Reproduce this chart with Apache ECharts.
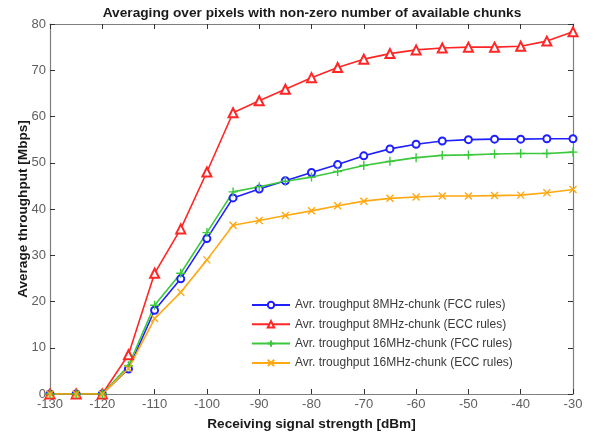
<!DOCTYPE html>
<html>
<head>
<meta charset="utf-8">
<script src="https://cdn.jsdelivr.net/npm/echarts@6/dist/echarts.min.js"></script>
<style>
  html, body { margin: 0; padding: 0; background: #fff; }
  #chart { width: 595px; height: 436px; }
</style>
</head>
<body>
<div id="chart"></div>
<script>
// Receiving signal strength [dBm]
const signalStrength = [-130, -125, -120, -115, -110, -105, -100, -95, -90, -85, -80,
                        -75, -70, -65, -60, -55, -50, -45, -40, -35, -30];

// Average throughput [Mbps] per chunk size / regulatory rules
const fcc8MHz  = [0, 0, 0, 5.4, 18.1, 24.9, 33.6, 42.4, 44.3, 46.1, 47.9,
                  49.6, 51.5, 53.0, 54.0, 54.7, 55.0, 55.1, 55.1, 55.2, 55.2];
const ecc8MHz  = [0, 0, 0, 8.5, 26.1, 35.7, 48.0, 60.8, 63.4, 65.9, 68.4,
                  70.6, 72.4, 73.6, 74.4, 74.8, 75.0, 75.0, 75.2, 76.3, 78.3];
const fcc16MHz = [0, 0, 0, 6.1, 19.2, 26.1, 34.9, 43.7, 44.8, 46.0, 46.9,
                  48.1, 49.4, 50.3, 51.1, 51.6, 51.7, 51.9, 52.0, 52.0, 52.3];
const ecc16MHz = [0, 0, 0, 5.5, 16.3, 22.0, 29.0, 36.5, 37.5, 38.6, 39.6,
                  40.7, 41.7, 42.3, 42.6, 42.8, 42.8, 42.9, 43.0, 43.5, 44.2];

const seriesNames = [
  'Avr. troughput 8MHz-chunk (FCC rules)',
  'Avr. troughput 8MHz-chunk (ECC rules)',
  'Avr. troughput 16MHz-chunk (FCC rules)',
  'Avr. troughput 16MHz-chunk (ECC rules)'
];

const pairs = vals => signalStrength.map((x, i) => [x, vals[i]]);

const PLUS = 'path://M0,5L10,5M5,0L5,10';
const CROSS = 'path://M0,0L10,10M0,10L10,0';

function lineSeries(name, vals, color, symbol, size, stroked) {
  return {
    name: name,
    type: 'line',
    data: pairs(vals),
    symbol: symbol,
    symbolSize: size,
    lineStyle: { color: color, width: 1.6 },
    itemStyle: stroked
      ? { color: color, borderColor: color, borderWidth: 1.4 }
      : { color: color, borderWidth: 1.4 },
    emphasis: { disabled: true },
    animation: false
  };
}

const axisGray = '#7f7f7f';
const labelGray = '#5e5e5e';

const chart = echarts.init(document.getElementById('chart'), null, { renderer: 'canvas' });
chart.setOption({
  backgroundColor: '#fff',
  title: {
    text: 'Averaging over pixels with non-zero number of available chunks',
    left: 307, textAlign: 'center', top: 1,
    textStyle: { fontFamily: 'Liberation Sans', fontSize: 13.7, fontWeight: 'bold', color: '#1a1a1a' }
  },
  legend: {
    orient: 'vertical',
    left: 246, top: 294,
    itemWidth: 38, itemHeight: 8, itemGap: 7.3,
    textStyle: { fontFamily: 'Liberation Sans', fontSize: 12, color: '#3a3a3a' },
    data: seriesNames
  },
  grid: { left: 50, right: 22, top: 24, bottom: 39 },
  xAxis: [{
    type: 'value', min: -130, max: -30, interval: 10,
    name: 'Receiving signal strength [dBm]', nameLocation: 'middle', nameGap: 23,
    nameMoveOverlap: false,
    nameTextStyle: { fontFamily: 'Liberation Sans', fontSize: 13.6, fontWeight: 'bold', color: '#1a1a1a' },
    axisLine: { onZero: false, lineStyle: { color: axisGray, width: 1.2 } },
    axisTick: { inside: true, length: 5, lineStyle: { color: '#333' } },
    axisLabel: { margin: 4, fontFamily: 'Liberation Sans', fontSize: 13, color: labelGray },
    splitLine: { show: false }
  }, {
    type: 'value', position: 'top', min: -130, max: -30, interval: 10,
    axisLine: { onZero: false, lineStyle: { color: axisGray, width: 1.2 } },
    axisTick: { inside: true, length: 5, lineStyle: { color: '#333' } },
    axisLabel: { show: false },
    splitLine: { show: false }
  }],
  yAxis: [{
    type: 'value', min: 0, max: 80, interval: 10,
    name: 'Average throughput [Mbps]', nameLocation: 'middle', nameGap: 20,
    nameMoveOverlap: false,
    nameTextStyle: { fontFamily: 'Liberation Sans', fontSize: 13.6, fontWeight: 'bold', color: '#1a1a1a' },
    axisLine: { show: true, onZero: false, lineStyle: { color: axisGray, width: 1.2 } },
    axisTick: { show: true, inside: true, length: 5, lineStyle: { color: '#333' } },
    axisLabel: { margin: 4, fontFamily: 'Liberation Sans', fontSize: 13, color: labelGray },
    splitLine: { show: false }
  }, {
    type: 'value', position: 'right', min: 0, max: 80, interval: 10,
    axisLine: { show: true, onZero: false, lineStyle: { color: axisGray, width: 1.2 } },
    axisTick: { show: true, inside: true, length: 5, lineStyle: { color: '#333' } },
    axisLabel: { show: false },
    splitLine: { show: false }
  }],
  series: [
    lineSeries(seriesNames[0], fcc8MHz, '#1f1fff', 'emptyCircle', 7, false),
    lineSeries(seriesNames[1], ecc8MHz, '#ff2626', 'emptyTriangle', 9, false),
    lineSeries(seriesNames[2], fcc16MHz, '#3cc83c', PLUS, 9, true),
    lineSeries(seriesNames[3], ecc16MHz, '#ffa812', CROSS, 7, true)
  ]
});
</script>
</body>
</html>
